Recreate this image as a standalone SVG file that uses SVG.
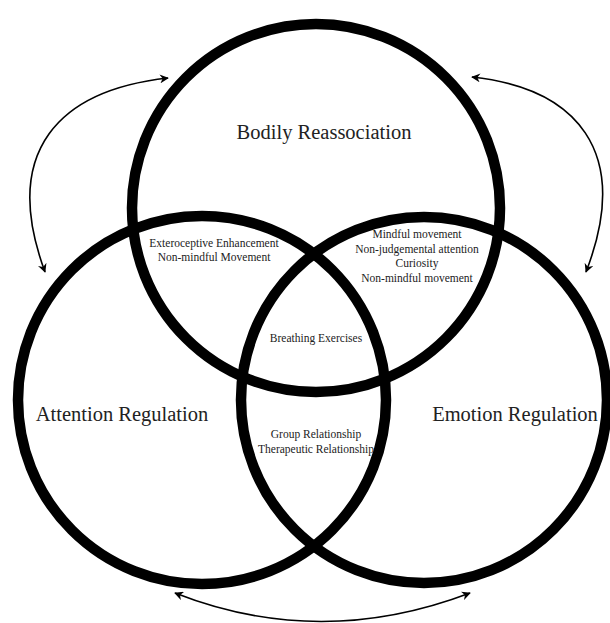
<svg xmlns="http://www.w3.org/2000/svg" width="610" height="623" viewBox="0 0 610 623">
<style>
.ring{fill:none;stroke:#000;stroke-width:10.5}
.big{font-family:"Liberation Serif","Times New Roman",serif;font-size:20.5px;fill:#222;text-anchor:middle}
.small{font-family:"Liberation Serif","Times New Roman",serif;font-size:11.5px;fill:#222;text-anchor:middle}
.arrow{fill:none;stroke:#000;stroke-width:1.6;marker-start:url(#ah);marker-end:url(#ah)}
</style>
<defs>
<marker id="ah" viewBox="0 0 10 10" refX="9" refY="5" markerWidth="9" markerHeight="9" markerUnits="userSpaceOnUse" orient="auto-start-reverse">
<path d="M0,0 L10,5 L0,10 L3,5 Z" fill="#000"/>
</marker>
</defs>
<rect width="610" height="623" fill="#fff"/>
<g id="bodily-reassociation">
<circle class="ring" cx="316" cy="208" r="184"/>
<text class="big" x="324" y="139">Bodily Reassociation</text>
</g>
<g id="attention-regulation">
<circle class="ring" cx="202" cy="400" r="184"/>
<text class="big" x="122" y="421">Attention Regulation</text>
</g>
<g id="emotion-regulation">
<circle class="ring" cx="424" cy="400" r="183"/>
<text class="big" x="515" y="421">Emotion Regulation</text>
</g>
<g id="bodily-attention">
<text class="small" x="214" y="247">Exteroceptive Enhancement</text>
<text class="small" x="214" y="261">Non-mindful Movement</text>
</g>
<g id="bodily-emotion">
<text class="small" x="417" y="238">Mindful movement</text>
<text class="small" x="417" y="252.5">Non-judgemental attention</text>
<text class="small" x="417" y="267">Curiosity</text>
<text class="small" x="417" y="282">Non-mindful movement</text>
</g>
<g id="all-three">
<text class="small" x="316" y="342">Breathing Exercises</text>
</g>
<g id="attention-emotion">
<text class="small" x="316" y="438">Group Relationship</text>
<text class="small" x="316" y="453">Therapeutic Relationship</text>
</g>
<g id="connectors">
<path class="arrow" d="M45,272 C0,150 60,90 168,78"/>
<path class="arrow" d="M472,77 C575,88 633,150 586,272"/>
<path class="arrow" d="M175,593 Q320,650 470,593"/>
</g>
</svg>
